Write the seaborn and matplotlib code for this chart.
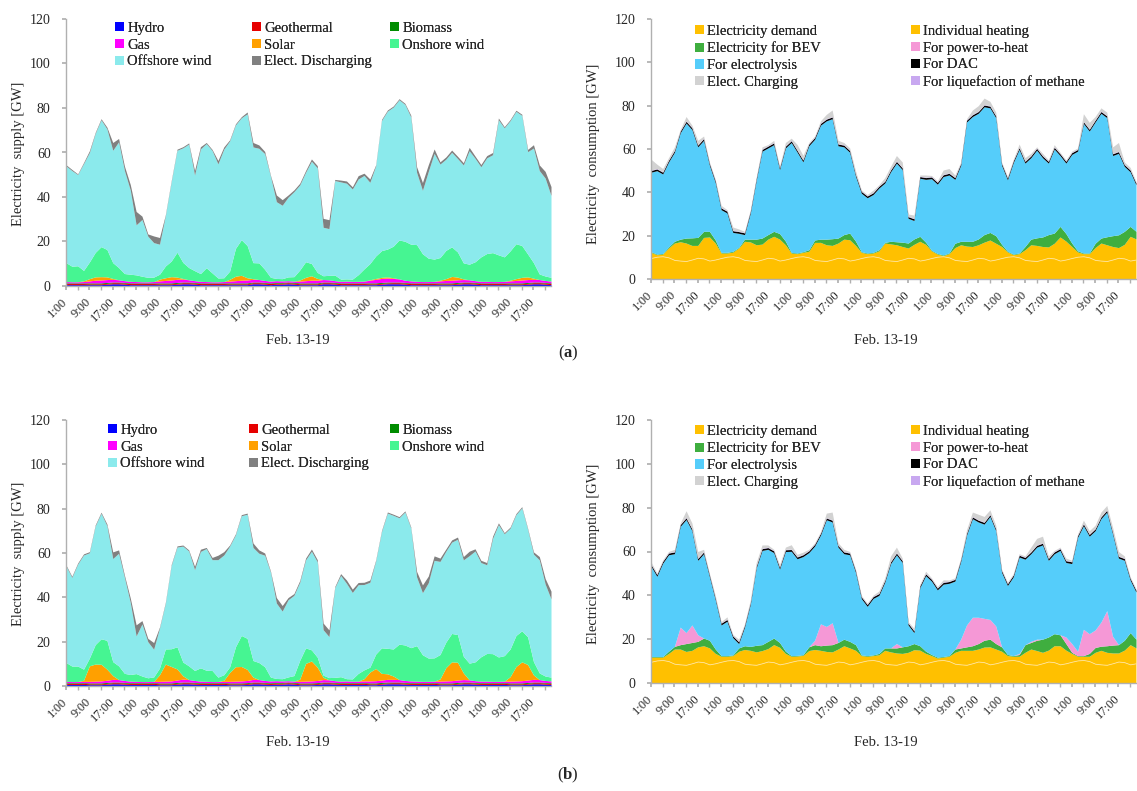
import numpy as np
import matplotlib
matplotlib.use("Agg")
import matplotlib.pyplot as plt
import seaborn as sns
from matplotlib.patches import Patch

sns.set_theme(style="white")
plt.rcParams["font.family"] = ["Liberation Serif", "DejaVu Serif"]
plt.rcParams["mathtext.fontset"] = "custom"
plt.rcParams["mathtext.rm"] = "Liberation Serif"
plt.rcParams["mathtext.bf"] = "Liberation Serif:bold"

# ---------------- data (2-hour steps, Feb. 13-19, first point = 1:00) ----------------
hours = np.arange(0, 168, 2)
tick_labels = ["1:00", "9:00", "17:00", "1:00", "9:00", "17:00", "1:00", "9:00", "17:00",
               "1:00", "9:00", "17:00", "1:00", "9:00", "17:00", "1:00", "9:00", "17:00",
               "1:00", "9:00", "17:00"]

# ---- (a) supply ----
hydro_a = [0.6,0.6,0.6,0.6,0.6,0.6,0.6,0.8,1.0,1.0,0.8,0.6,
           0.6,0.6,0.6,0.6,0.6,0.6,0.6,0.8,1.0,1.0,0.8,0.6,
           0.6,0.6,0.6,0.6,0.6,0.6,0.6,0.6,1.0,1.0,0.8,0.6,
           0.8,0.8,1.0,0.8,0.6,0.6,0.6,0.6,1.0,1.0,0.8,0.6,
           0.6,0.6,0.6,0.6,0.6,0.6,0.8,1.0,1.0,1.0,0.8,0.6,
           0.6,0.6,0.6,0.6,0.6,0.6,0.6,0.8,1.0,1.0,0.8,0.6,
           0.6,0.6,0.6,0.6,0.6,0.6,0.6,0.8,1.0,1.0,0.8,0.6]
geothermal_a = [0.5,0.5,0.5,0.5,0.4,0.4,0.4,0.4,0.5,0.5,0.5,0.5,
                0.5,0.5,0.5,0.5,0.4,0.4,0.4,0.4,0.5,0.5,0.5,0.5,
                0.5,0.5,0.5,0.5,0.4,0.4,0.4,0.4,0.5,0.5,0.5,0.5,
                0.5,0.5,0.5,0.5,0.4,0.4,0.4,0.4,0.5,0.5,0.5,0.5,
                0.5,0.5,0.5,0.5,0.4,0.4,0.4,0.4,0.5,0.5,0.5,0.5,
                0.5,0.5,0.5,0.5,0.4,0.4,0.4,0.4,0.5,0.5,0.5,0.5,
                0.5,0.5,0.5,0.5,0.4,0.4,0.4,0.4,0.5,0.5,0.5,0.5]
biomass_a = [0.3,0.3,0.3,0.3,0.4,0.4,0.4,0.4,0.3,0.3,0.3,0.3,
             0.3,0.3,0.3,0.3,0.4,0.4,0.4,0.4,0.3,0.3,0.3,0.3,
             0.3,0.3,0.3,0.3,0.4,0.4,0.4,0.4,0.3,0.3,0.3,0.3,
             0.3,0.3,0.3,0.3,0.4,0.4,0.4,0.4,0.3,0.3,0.3,0.3,
             0.3,0.3,0.3,0.3,0.4,0.4,0.4,0.4,0.3,0.3,0.3,0.3,
             0.3,0.3,0.3,0.3,0.4,0.4,0.4,0.4,0.3,0.3,0.3,0.3,
             0.3,0.3,0.3,0.3,0.4,0.4,0.4,0.4,0.3,0.3,0.3,0.3]
gas_a = [0.6,0.5,0.5,0.6,0.9,1.2,1.3,1.3,1.2,1.0,0.8,0.7,
         0.6,0.5,0.5,0.6,0.9,1.1,1.3,1.4,1.3,1.0,0.8,0.7,
         0.6,0.5,0.5,0.6,0.8,1.0,1.2,1.3,1.2,1.1,0.9,0.8,
         0.8,0.7,0.6,0.6,0.8,1.0,1.2,1.2,1.1,1.0,0.8,0.7,
         0.8,0.7,0.7,0.8,1.2,1.6,1.8,1.8,1.6,1.4,1.0,0.9,
         0.7,0.6,0.6,0.7,0.9,1.1,1.2,1.2,1.1,1.0,0.8,0.7,
         0.7,0.6,0.6,0.7,0.9,1.1,1.3,1.3,1.2,1.1,0.9,0.8]
solar_a = [0,0,0,0.3,1.0,1.5,1.5,1.2,0.4,0,0,0,
           0,0,0,0,0.8,1.2,1.5,1.0,0.3,0,0,0,
           0,0,0,0,0.8,2.0,2.2,1.0,0.3,0,0,0,
           0,0,0,0,0.5,1.5,2.0,0.8,0,0,0,0,
           0,0,0,0,0.2,0.4,0.5,0.5,0.3,0,0,0,
           0,0,0,0,0.3,0.8,1.7,1.2,0.3,0,0,0,
           0,0,0,0,0.3,0.8,1.2,1.2,0.5,0,0,0]
onshore_a = [8.5,7.0,7.2,4.7,7.5,11,13.5,12.3,7.1,5.5,3.2,3.2,
             3.0,2.5,2.0,2.0,2.2,5.3,7,11.2,7.2,5.5,4.5,3.5,
             6.2,4.0,1.7,1.7,3.7,12.5,16,14.5,7.2,7.5,5,1.7,
             1.0,1.0,1.7,2.0,4.5,7,5.5,2.7,1.7,2.0,2.5,1.0,
             1.0,1.0,3.0,5.5,7.3,10.1,12,12.5,14.2,17.5,17.5,16.5,
             16.5,12.5,10.5,10,10.2,12.7,13.3,11.3,7.2,7,8.5,11,
             12.5,13,12,11,13.2,15.7,14.3,10.3,7,2.5,2.0,1.7]
offshore_a = [43.5,43,41,48,49.2,53.5,57,54.2,50.5,56.5,46.3,37.8,
              22.5,25.5,18.5,15.5,13.5,22.5,35.5,45.8,51.5,55.5,43,56,
              55.8,55,51.3,57.8,58.5,55.5,54.8,59.2,52,51.5,52,45.3,
              34.5,33,35.8,38.2,38.2,40.2,46,47,21.8,21,42.5,43.7,
              43,40.5,43,42,36.5,40.5,58.5,62,62.5,63,61.5,57.2,
              32.5,28.5,39,47.5,42,41,42.5,42,44,51,46.5,40.5,
              43,44,60.7,58,58.5,59.5,58.5,46,51.5,46.5,44,36.8]
discharging_a = [0.5,0.5,0.3,0.5,0.8,0.5,0.5,0.8,3.5,1.5,2,2.5,
                 6,1.5,1,3,3,0.5,0.5,0.5,0.5,0.5,2,1,
                 0.5,0.5,1.5,1,0.5,0.5,0.5,0.8,2,1.5,1,0.5,
                 3,2.5,1,0.8,0.8,0.8,1,1,4,4,0.5,0.8,
                 1,1,1.5,1,1.5,0.5,0.5,0.5,0.5,0.5,0.5,0.8,
                 2.5,3.5,3,2,1,1,1,1,1,1.5,1,1,
                 1,1,0.8,0.5,0.5,0.5,0.5,1,1.5,2.5,3,4]

# ---- electricity demand (same in both cases) ----
elec_demand = [9.7,10.3,10.5,10.0,8.8,8.5,8.3,9.0,9.8,9.5,8.5,9.0,
               9.7,10.3,10.5,10.0,8.8,8.5,8.3,9.0,9.8,9.5,8.5,9.0,
               9.7,10.3,10.5,10.0,8.8,8.5,8.3,9.0,9.8,9.5,8.5,9.0,
               9.7,10.3,10.5,10.0,8.8,8.5,8.3,9.0,9.8,9.5,8.5,9.0,
               9.7,10.3,10.5,10.0,8.8,8.5,8.3,9.0,9.8,9.5,8.5,9.0,
               9.7,10.3,10.5,10.0,8.8,8.5,8.3,9.0,9.8,9.5,8.5,9.0,
               9.7,10.3,10.5,10.0,8.8,8.5,8.3,9.0,9.8,9.5,8.5,9.0]

# ---- (a) consumption ----
heating_a = [2.6,0.9,1.0,4.3,7.8,8.7,8.3,6.5,5.7,9.7,10.9,7.6,
             2.3,1.7,1.9,4.3,8.6,8.6,7.5,7.1,8.6,10.2,9.9,6.8,
             2.3,1.4,1.8,2.8,8.1,8.4,7.5,6.5,6.8,8.9,9.6,6.5,
             2.6,1.4,1.5,3.0,7.8,7.7,7.5,6.0,4.5,6.5,8.9,7.0,
             3.3,1.2,0.3,1.7,5.7,7.3,6.9,6.0,6.0,7.5,9.5,7.5,
             5.3,2.2,0.7,1.7,4.7,7.3,7.2,6.0,5.0,7.0,10.9,8.5,
             5.3,2.2,1.2,1.7,5.7,8.1,7.5,6.0,4.7,6.5,11.2,9.5]
bev_a = [0.3,0.3,0.3,0.5,0.8,1.2,2.3,3.5,3.7,2.8,2.6,1.4,
         0.3,0.3,0.4,0.3,1.0,1.3,2.6,2.8,2.1,2.3,2.6,1.7,
         0.3,0.3,0.3,0.7,1.1,1.5,2.6,3.1,2.3,2.1,3.1,2.0,
         0.3,0.3,0.3,0.5,0.3,1.2,1.4,2.0,2.3,2.5,2.3,1.0,
         0.3,0.3,0.3,0.3,2.0,1.6,2.2,2.4,2.7,3.5,3.5,3.5,
         1.0,0.3,0.3,0.3,1.5,2.6,3.5,4.4,5.7,4.7,4.9,3.5,
         1.6,0.5,0.3,0.3,2.0,2.3,3.7,5.0,5.9,6.0,4.6,3.5]
electrolysis_a = [36.7,38.5,36.7,39.2,41.1,49.1,53.1,50,41.8,42,30.5,26.5,
                  19.7,18.2,8.7,6.5,2.1,12.1,27.1,40.1,40,40,29.5,43,
                  50.7,46.6,41.5,48,46.5,52.6,54.6,55.4,42.6,40.5,37.3,30,
                  27,25.5,26.7,28.5,27.4,32.1,36.3,33.5,11.4,8.5,26.8,29,
                  33,32,36.2,36,29.5,35.1,55.1,57.6,58,59,57.5,54.5,
                  36.5,33,42.3,47.8,38.5,37.6,40.5,36.6,33,38.8,32.7,32.5,
                  40.9,46,59.8,56.3,56,57.6,55,37,37.6,30,25.2,21.5]
dac_a = [0.8,0.8,0.8,0.8,0.8,0.8,0.8,0.8,0.8,0.8,0.8,0.8,
         0.8,0.8,0.8,0.8,0.8,0.8,0.8,0.8,0.8,0.8,0.8,0.8,
         0.8,0.8,0.8,0.8,0.8,0.8,0.8,0.8,0.8,0.8,0.8,0.8,
         0.8,0.8,0.8,0.8,0.8,0.8,0.8,0.8,0.8,0.8,0.8,0.8,
         0.8,0.8,0.8,0.8,0.8,0.8,0.8,0.8,0.8,0.8,0.8,0.8,
         0.8,0.8,0.8,0.8,0.8,0.8,0.8,0.8,0.8,0.8,0.8,0.8,
         0.8,0.8,0.8,0.8,0.8,0.8,0.8,0.8,0.8,0.8,0.8,0.8]
liquefaction_a = [0.2,0.2,0.2,0.2,0.2,0.2,0.2,0.2,0.2,0.2,0.2,0.2,
                  0.2,0.2,0.2,0.2,0.2,0.2,0.2,0.2,0.2,0.2,0.2,0.2,
                  0.2,0.2,0.2,0.2,0.2,0.2,0.2,0.2,0.2,0.2,0.2,0.2,
                  0.2,0.2,0.2,0.2,0.2,0.2,0.2,0.2,0.2,0.2,0.2,0.2,
                  0.2,0.2,0.2,0.2,0.2,0.2,0.2,0.2,0.2,0.2,0.2,0.2,
                  0.2,0.2,0.2,0.2,0.2,0.2,0.2,0.2,0.2,0.2,0.2,0.2,
                  0.2,0.2,0.2,0.2,0.2,0.2,0.2,0.2,0.2,0.2,0.2,0.2]
charging_a = [5,2,1.5,1,1.5,0.5,2,1,2,1,0.5,0.5,
              1,0.5,1.5,1,0.5,0.5,0.5,1,0.5,1,0.5,1.5,
              1,2.5,2,0.5,0.5,1,2,3,1.5,1,1,1.5,
              0.5,0.5,1,0.5,1.5,1.5,2.5,2.5,1,1.5,0.5,1,
              0.5,0.5,2,2,1,0.5,0.5,2,2.5,3,2,1.5,
              0.5,0.5,0.5,1.5,1.5,1,0.5,1,0.5,1,0.5,0.5,
              0.5,0.5,3.5,3,1.5,1.5,1.5,3,4,1,1,0.5]

# ---- (b) supply ----
hydro_b = [0.7,0.7,0.7,0.7,0.6,0.6,0.6,0.8,1.0,1.0,0.8,0.7,
           0.7,0.7,0.7,0.7,0.6,0.6,0.6,0.8,1.0,1.0,0.8,0.7,
           0.7,0.7,0.7,0.7,0.6,0.6,0.6,0.7,1.0,1.0,0.8,0.7,
           0.8,0.8,1.0,0.8,0.6,0.6,0.6,0.7,1.0,1.0,0.8,0.7,
           0.7,0.7,0.7,0.7,0.6,0.6,0.8,1.0,1.0,1.0,0.8,0.7,
           0.7,0.7,0.7,0.7,0.6,0.6,0.6,0.8,1.0,1.0,0.8,0.7,
           0.7,0.7,0.7,0.7,0.6,0.6,0.6,0.8,1.0,1.0,0.8,0.7]
geothermal_b = [0.5,0.5,0.5,0.5,0.4,0.4,0.4,0.4,0.5,0.5,0.5,0.5,
                0.5,0.5,0.5,0.5,0.4,0.4,0.4,0.4,0.5,0.5,0.5,0.5,
                0.5,0.5,0.5,0.5,0.4,0.4,0.4,0.4,0.5,0.5,0.5,0.5,
                0.5,0.5,0.5,0.5,0.4,0.4,0.4,0.4,0.5,0.5,0.5,0.5,
                0.5,0.5,0.5,0.5,0.4,0.4,0.4,0.4,0.5,0.5,0.5,0.5,
                0.5,0.5,0.5,0.5,0.4,0.4,0.4,0.4,0.5,0.5,0.5,0.5,
                0.5,0.5,0.5,0.5,0.4,0.4,0.4,0.4,0.5,0.5,0.5,0.5]
biomass_b = [0.3,0.3,0.3,0.3,0.4,0.4,0.4,0.4,0.3,0.3,0.3,0.3,
             0.3,0.3,0.3,0.3,0.4,0.4,0.4,0.4,0.3,0.3,0.3,0.3,
             0.3,0.3,0.3,0.3,0.4,0.4,0.4,0.4,0.3,0.3,0.3,0.3,
             0.3,0.3,0.3,0.3,0.4,0.4,0.4,0.4,0.3,0.3,0.3,0.3,
             0.3,0.3,0.3,0.3,0.4,0.4,0.4,0.4,0.3,0.3,0.3,0.3,
             0.3,0.3,0.3,0.3,0.4,0.4,0.4,0.4,0.3,0.3,0.3,0.3,
             0.3,0.3,0.3,0.3,0.4,0.4,0.4,0.4,0.3,0.3,0.3,0.3]
gas_b = [0.6,0.5,0.5,0.6,0.7,0.8,0.9,1.0,1.2,1.1,0.9,0.7,
         0.6,0.5,0.5,0.6,0.7,0.8,0.9,1.1,1.3,1.1,0.9,0.7,
         0.6,0.5,0.5,0.6,0.7,0.8,0.9,1.0,1.2,1.1,0.9,0.8,
         0.8,0.7,0.6,0.6,0.7,0.8,0.9,1.0,1.1,1.0,0.8,0.7,
         0.8,0.7,0.7,0.8,0.9,1.0,1.1,1.2,1.2,1.1,0.9,0.8,
         0.7,0.6,0.6,0.7,0.8,0.9,1.0,1.1,1.1,1.0,0.8,0.7,
         0.7,0.6,0.6,0.7,0.8,0.9,1.0,1.1,1.2,1.1,0.9,0.8]
solar_b = [0,0,0,0.5,7,7.7,7.5,5,1.7,0,0,0,
           0,0,0,0,3,7.7,6.5,5,1.5,0,0,0,
           0,0,0,0.5,4,6.5,6.5,5,1,0,0,0,
           0,0,0,0,1,8,9,6,1,0,0,0,
           0,0,0,1,4,5.5,3,2.5,1.5,0,0,0,
           0,0,0,0,1,6,8.5,8,3,0,0,0,
           0,0,0,0,2,6.5,8.5,7,2,0,0,0]
onshore_b = [8.5,7,7,5,3.5,8.8,11.5,13,6.3,6.2,3.2,3,
             3.5,2.5,1.7,2,3,6.8,8,10,6.2,6.2,4.5,6,
             5,5,2,2.5,2.5,9,14,14,7.5,7.7,6.2,1.7,
             1,1,1.7,2.5,8.5,7,5,4.5,1,1,1.5,2,
             1,1,3.5,4,2.2,6.5,11.5,11.5,12.2,16,16,15,
             16,12,10.5,10.5,11,11.5,12.8,12.5,7.5,7.5,8.5,11,
             12.5,12.5,11,11.5,12.5,14,14,12.5,6,3,2,1.7]
offshore_b = [43.5,40,46,51.5,47.5,53.5,56.6,51.7,46.5,50.8,43.3,32.5,
              17,23.5,16.3,12.5,18,20.5,37.5,45,52.3,51.8,45.5,52.5,
              54.9,50,53,54,54.5,50.5,54,56,51,49.3,50.3,47.3,
              34,30.5,34.8,36.2,35.2,39.7,44.5,43,20.5,18.5,40.5,45.7,
              43,39,40,38.5,38.3,42,52.5,61,60.3,57,60,54,
              31,28,34,44,42,41,41.2,43,43.5,48.5,50,42.5,
              40,52,59.7,55,54.5,54.5,55.5,48.5,48.5,51,41.5,35.3]
discharging_b = [0.5,0.5,0.5,0.5,0.5,0.5,0.5,0.8,3,1.5,1,2,
                 5,1.5,1.5,3,0.5,0.5,0.5,0.5,0.5,0.5,1.5,1,
                 0.5,1,2,1.5,0.5,0.5,0.5,0.5,2,1.5,1,0.5,
                 2.5,2.5,1,0.8,0.8,0.8,1,1,3,3,0.5,0.8,
                 1.5,1.5,1,1,1,0.5,0.5,0.5,0.5,0.5,0.5,0.5,
                 2.5,3.5,3,2,1.5,1,1,1,1.5,2,1,1,
                 1,1,0.8,0.5,0.5,0.5,0.5,0.5,1,1.5,2.5,3.5]

# ---- (b) consumption ----
heating_b = [2.1,1.5,1.3,3.5,6.7,7.0,6.1,5.9,6.7,7.5,7.5,4.5,
             2.5,1.9,2.0,4.5,6.5,6.4,5.9,5.8,5.9,8.0,7.8,4.5,
             2.5,2.0,2.1,4.8,6.5,6.4,6.1,5.2,5.7,7.5,7.5,5.9,
             2.8,1.9,2.0,2.9,6.1,5.7,5.4,4.5,4.2,5.7,6.5,4.5,
             2.8,1.1,1.3,2.2,5.2,6.4,6.6,5.9,5.7,6.9,8.0,6.5,
             4.8,2.2,1.7,2.2,5.2,7.0,6.5,5.0,5.2,7.5,8.5,6.0,
             3.8,1.9,1.7,2.2,5.2,6.4,5.7,4.7,3.9,5.5,9.0,7.0]
bev_b = [0.3,0.3,0.3,1.0,1.2,2.0,3.6,3.6,2.5,3.5,3.5,2.0,
         0.3,0.3,0.3,1.5,1.7,1.8,3.0,2.7,3.3,3.0,2.2,1.0,
         0.3,0.3,0.3,1.7,2.2,2.1,2.9,3.3,3.0,3.0,3.0,2.6,
         0.3,0.3,0.3,0.6,1.1,1.8,2.3,3.0,3.0,2.8,2.0,1.0,
         0.5,0.4,0.3,0.3,1.5,1.1,1.6,2.1,2.5,3.1,3.5,2.5,
         2.0,0.5,0.3,0.8,3.5,3.0,4.7,6.0,6.0,5.5,5.0,3.0,
         0.5,0.3,0.3,1.3,2.2,1.9,3.0,3.6,3.8,4.5,5.5,4.0]
power_to_heat_b = [0,0,0,0,0,8,5,8,3,0,0,0,
                   0,0,0,0,0,0,0,0,0,0,0,0,
                   0,0,0,0,2,10,8.5,10,0,0,0,0,
                   0,0,0,0,0,0,2,0,0,0,0,0,
                   0,0,0,0,0,4,10,13,12,10,9,8,
                   0,0,0,0.5,0,0.5,0.5,0,0,0,0,3,
                   4,2,12,9,8,11,16,4,0,0,0,0]
electrolysis_b = [41.2,36.6,42.6,44,42.3,46,51.6,43,34,38.5,29,22.5,
                  14,15.7,7.9,2,8.5,19.3,35.3,43,42,39,33.5,45.5,
                  47.6,44.1,44.8,43,43,40.5,48.7,46,43.5,39,39.5,33,
                  25.7,22.5,25.8,26.5,30,38.5,40.5,38.5,9.5,5,26.5,34.5,
                  33.5,30.7,33,33,31,35.5,41,45,43.5,43,47,43.5,
                  34,31.5,36,44,39,40,42,43,35,36.5,38.5,34,
                  36.5,52,47.3,44.5,45.3,47.2,45,46.7,39.5,36.5,24,21.5]
dac_b = dac_a
liquefaction_b = liquefaction_a
charging_b = [1,0.5,0.5,0.5,1,0.5,3,2.5,3,1,0.5,1,
              0.5,1,0.5,1,0.5,1,1.5,1.5,1,0.5,1,1,
              2,1,1,0.5,0.5,0.5,2,3.5,1,1,0.5,0.5,
              0.5,0.5,0.5,1,1,2.5,2.5,1,0.5,1,0.5,1,
              0.5,0.5,1,0.5,0.5,0.5,1.5,2,2.5,2.5,2,1.5,
              0.5,0.5,0.5,0.5,0.5,2,3,3,1,0.5,0.5,1,
              0.5,0.5,1.5,1.5,1.5,2,2,2,2,1,0.5,0.5]

supply_labels = ["Hydro", "Geothermal", "Biomass", "Gas", "Solar",
                 "Onshore wind", "Offshore wind", "Elect. Discharging"]
supply_colors = ["#0000ff", "#e60000", "#008c00", "#ff00ff", "#ffa000",
                 "#46f592", "#8beaec", "#808080"]
cons_labels = ["Electricity demand", "Individual heating", "Electricity for BEV",
               "For power-to-heat", "For electrolysis", "For DAC",
               "For liquefaction of methane", "Elect. Charging"]
cons_colors = ["#ffc000", "#ffc000", "#3fae3f", "#f598d6", "#55cdfa",
               "#000000", "#c8a8f0", "#d2d2d2"]

W, H = 1137, 791
fig = plt.figure(figsize=(W / 100, H / 100), dpi=100)


def fx(x):
    return x / W


def fy(y):
    return 1 - y / H


def make_ax(x0, x1, ytop, ybot):
    return fig.add_axes([fx(x0), fy(ybot), fx(x1 - x0), (ybot - ytop) / H])


def style_ax(ax):
    ax.set_xlim(0, 166)
    ax.set_ylim(0, 120)
    ax.set_yticks(np.arange(0, 121, 20))
    ax.set_xticks(np.arange(0, 161, 8))
    ax.set_xticklabels(tick_labels, rotation=45, ha="right", va="center",
                       rotation_mode="anchor")
    ax.set_xticks(np.arange(4, 167, 8), minor=True)
    sns.despine(ax=ax)
    for s in ("left", "bottom"):
        ax.spines[s].set_color("#b0b0b0")
        ax.spines[s].set_linewidth(1.0)
    ax.tick_params(axis="y", which="both", direction="out", length=3,
                   color="#b0b0b0", labelsize=10, pad=8, left=True)
    ax.tick_params(axis="x", which="both", direction="out", length=3,
                   color="#b0b0b0", labelsize=9, pad=7, bottom=True)
    ax.grid(False)
    ax.set_facecolor("white")


def col_legend(items, colors, x, y, fs=10.5):
    handles = [Patch(facecolor=c, edgecolor="none") for c in colors]
    leg = fig.legend(handles, items, loc="upper left",
                     bbox_to_anchor=(fx(x), fy(y)), bbox_transform=fig.transFigure,
                     frameon=False, fontsize=fs, borderpad=0, borderaxespad=0,
                     handlelength=0.6, handleheight=0.6, handletextpad=0.25,
                     labelspacing=0.25)
    return leg


def supply_panel(ax, layers):
    ax.stackplot(hours, *layers, colors=supply_colors, linewidth=0)
    style_ax(ax)


def cons_panel(ax, layers, cols):
    polys = ax.stackplot(hours, *layers, colors=cols, linewidth=0)
    polys[0].set_edgecolor("#ffe49a")
    polys[0].set_linewidth(0.6)
    polys[0].set_zorder(2.5)
    style_ax(ax)


sup_cols = [[0, 3, 6], [1, 4, 7], [2, 5]]
con_cols = [[0, 2, 4, 7], [1, 3, 5, 6]]

# ---- panel (a) ----
ax1 = make_ax(66, 551, 19, 286)
supply_panel(ax1, [hydro_a, geothermal_a, biomass_a, gas_a, solar_a,
                   onshore_a, offshore_a, discharging_a])
ax2 = make_ax(651, 1136, 19, 279)
cons_panel(ax2, [elec_demand, heating_a, bev_a, electrolysis_a, dac_a,
                 liquefaction_a, charging_a],
           [cons_colors[i] for i in (0, 1, 2, 4, 5, 6, 7)])

# ---- panel (b) ----
ax3 = make_ax(66, 551, 420, 686)
supply_panel(ax3, [hydro_b, geothermal_b, biomass_b, gas_b, solar_b,
                   onshore_b, offshore_b, discharging_b])
ax4 = make_ax(651, 1136, 420, 683)
cons_panel(ax4, [elec_demand, heating_b, bev_b, power_to_heat_b, electrolysis_b,
                 dac_b, liquefaction_b, charging_b], cons_colors)

# legends
for ytop, xs in ((22, (115, 252, 390)), (424, (108, 249, 390))):
    for xc, idx in zip(xs, sup_cols):
        fig.add_artist(col_legend([supply_labels[i] for i in idx],
                                  [supply_colors[i] for i in idx], xc, ytop))
for ytop in (25, 425):
    for xc, idx in zip((695, 911), con_cols):
        fig.add_artist(col_legend([cons_labels[i] for i in idx],
                                  [cons_colors[i] for i in idx], xc, ytop))

# axis titles
for yc in (154, 554):
    fig.text(fx(19), fy(yc), "Electricity  supply [GW]", rotation=90,
             ha="center", va="center", fontsize=10.5)
    fig.text(fx(593), fy(yc), "Electricity  consumption [GW]", rotation=90,
             ha="center", va="center", fontsize=10.5)
for yc in (341, 742):
    fig.text(fx(298), fy(yc), "Feb. 13-19", ha="center", va="center", fontsize=10.5)
    fig.text(fx(886), fy(yc), "Feb. 13-19", ha="center", va="center", fontsize=10.5)

fig.text(fx(568), fy(353), r"($\mathbf{a}$)", ha="center", va="center", fontsize=12)
fig.text(fx(568), fy(775), r"($\mathbf{b}$)", ha="center", va="center", fontsize=12)

fig.savefig("out.png", dpi=100, facecolor="white")
